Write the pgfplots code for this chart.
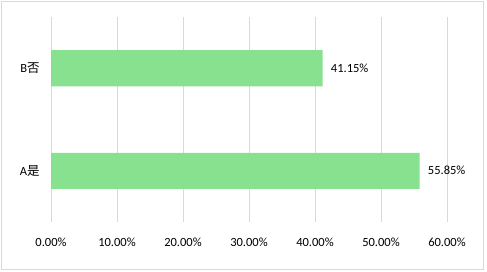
\documentclass[border=0pt]{standalone}
\usepackage{pgfplots}
\pgfplotsset{compat=1.18}
\usepackage{fontspec}
\setmainfont{Carlito}
\newfontfamily\cjk{Noto Sans CJK SC}
\definecolor{barc}{RGB}{136,225,143}
\definecolor{gridc}{RGB}{217,217,217}
\definecolor{bordc}{RGB}{217,217,217}
\begin{document}
\fontsize{12.5bp}{14bp}\selectfont
\begin{tikzpicture}[x=1bp,y=1bp]
\useasboundingbox (-51,-49) rectangle (436,222);
\draw[bordc,line width=0.8bp] (-50,-47) rectangle (432,221);
\begin{axis}[
  at={(0,0)}, anchor=south west,
  scale only axis,
  width=396bp, height=205bp,
  xbar, bar width=36bp,
  xmin=0, xmax=60,
  ymin=-0.5, ymax=1.5,
  ytick={0,1},
  yticklabels={A{\cjk 是}, B{\cjk 否}},
  xtick={0,10,20,30,40,50,60},
  xticklabel={\pgfmathprintnumber[fixed,fixed zerofill,precision=2]{\tick}\%},
  /pgf/number format/assume math mode=true,
  xmajorgrids, major grid style={gridc, line width=0.8bp},
  axis line style={draw=none},
  major tick length=0pt,
  tick label style={font=\fontsize{12.5bp}{14bp}\selectfont, text=black},
  xticklabel style={yshift=-12bp},
  yticklabel style={xshift=-7bp},
  nodes near coords={\pgfmathprintnumber[fixed,fixed zerofill,precision=2]{\pgfplotspointmeta}\%},
  nodes near coords style={font=\fontsize{12.5bp}{14bp}\selectfont, text=black, xshift=4bp},
]
\addplot[fill=barc, draw=none] coordinates {(55.85,0) (41.15,1)};
\end{axis}
\end{tikzpicture}
\end{document}
